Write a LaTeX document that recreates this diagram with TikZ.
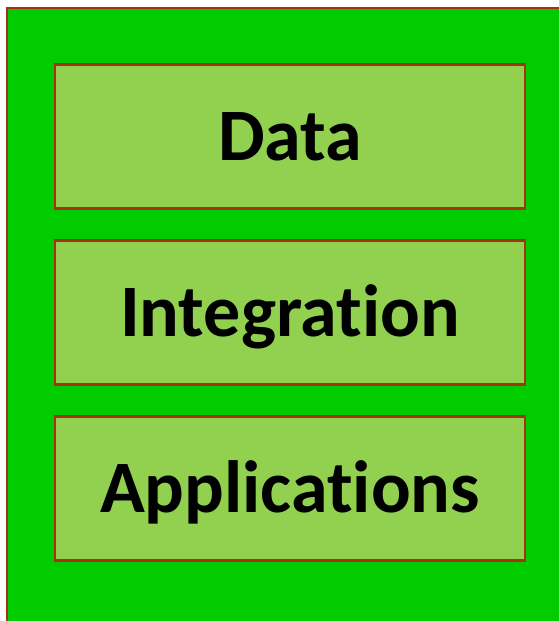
\documentclass[tikz,border=0pt]{standalone}
\usepackage{fontspec}
\setmainfont[Ligatures=NoCommon]{Carlito}
\definecolor{outerg}{RGB}{0,204,0}
\definecolor{innerg}{RGB}{146,208,80}
\definecolor{edge}{RGB}{165,50,20}
\begin{document}
\begin{tikzpicture}[x=1pt,y=-1pt,
  layer/.style={draw=edge,line width=2.2pt,fill=innerg,minimum width=470pt,minimum height=144pt,inner sep=0pt,
    text height=48pt,text depth=0pt,
    font=\fontsize{74}{80}\selectfont\bfseries}]
\useasboundingbox (0,0) rectangle (559,621);
\fill[white] (0,0) rectangle (559,621);
\filldraw[fill=outerg,draw=edge,line width=2.2pt] (565,8) -- (7,8) -- (7,630) -- (565,630) -- cycle;
\node[layer] (data) at (290,136.5) {Data};
\node[layer] (integ) at (290,312.5) {Integration};
\node[layer] (apps) at (290,488.5) {Applications};
\end{tikzpicture}
\end{document}
